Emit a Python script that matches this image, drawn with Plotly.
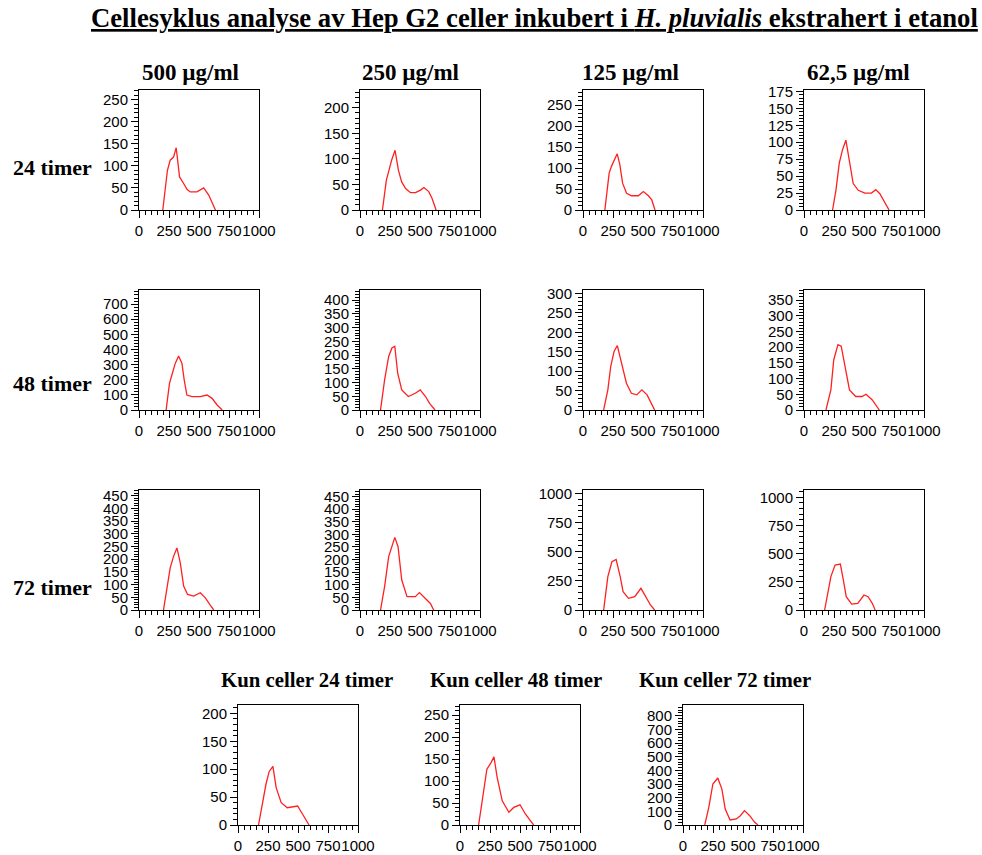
import plotly.graph_objects as go

# ---------------- data ----------------
# x: DNA content channel, y: cell count
x_500_24 = [198, 237, 260, 288, 310, 338, 372, 400, 427, 483, 539, 581, 637]
y_500_24 = [0, 90, 113, 120, 141, 75, 60, 47, 41, 41, 50, 34, 0]
x_250_24 = [187, 220, 242, 264, 292, 320, 347, 380, 421, 463, 504, 532, 573, 600, 634]
y_250_24 = [0, 59, 78, 98, 117, 78, 55, 42, 34, 34, 39, 44, 36, 23, 0]
x_125_24 = [182, 201, 218, 237, 265, 285, 307, 330, 363, 405, 461, 503, 545, 573, 600]
y_125_24 = [0, 40, 88, 104, 124, 134, 108, 64, 40, 34, 34, 44, 34, 24, 0]
x_62_24 = [238, 266, 294, 321, 349, 377, 410, 452, 507, 562, 598, 632, 673, 709]
y_62_24 = [0, 29, 69, 89, 103, 74, 39, 29, 25, 25, 30, 24, 11, 0]

x_500_48 = [226, 254, 274, 302, 330, 358, 377, 399, 441, 511, 567, 609, 651, 693]
y_500_48 = [0, 176, 231, 308, 357, 308, 198, 99, 88, 88, 99, 77, 33, 0]
x_250_48 = [171, 205, 239, 266, 290, 314, 348, 403, 461, 502, 546, 580, 625]
y_250_48 = [0, 110, 195, 226, 232, 134, 73, 49, 61, 73, 49, 24, 0]
x_125_48 = [172, 207, 231, 259, 286, 321, 362, 403, 448, 490, 534, 597]
y_125_48 = [0, 52, 112, 151, 166, 121, 69, 43, 39, 52, 39, 0]
x_62_48 = [183, 224, 248, 283, 310, 345, 379, 431, 483, 517, 569, 628]
y_62_48 = [0, 64, 160, 208, 203, 128, 64, 43, 43, 50, 32, 0]

x_500_72 = [204, 232, 260, 288, 316, 344, 372, 405, 455, 511, 553, 595, 623]
y_500_72 = [0, 81, 166, 211, 244, 185, 94, 61, 55, 68, 48, 18, 0]
x_250_72 = [171, 205, 239, 266, 290, 317, 348, 392, 461, 495, 546, 587, 614]
y_250_72 = [0, 93, 212, 258, 288, 251, 119, 53, 53, 69, 46, 26, 0]
x_125_72 = [172, 207, 241, 276, 310, 334, 379, 431, 483, 517, 562, 597]
y_125_72 = [0, 286, 414, 434, 286, 157, 100, 114, 186, 129, 43, 0]
x_62_72 = [172, 224, 259, 303, 328, 352, 397, 448, 500, 534, 569, 593]
y_62_72 = [0, 296, 399, 408, 266, 118, 53, 59, 133, 118, 59, 0]

x_ctrl_24 = [171, 205, 233, 260, 291, 318, 360, 411, 462, 497, 531, 565, 592]
y_ctrl_24 = [0, 43, 73, 96, 105, 67, 40, 31, 33, 34, 22, 11, 0]
x_ctrl_48 = [155, 190, 224, 259, 283, 310, 352, 407, 448, 500, 545, 586, 614]
y_ctrl_48 = [0, 70, 127, 142, 155, 108, 55, 29, 40, 46, 25, 10, 0]
x_ctrl_72 = [181, 215, 249, 290, 324, 352, 392, 444, 478, 512, 556, 597, 625]
y_ctrl_72 = [0, 129, 300, 344, 263, 117, 37, 44, 68, 105, 68, 20, 0]

col_titles = ["500 µg/ml", "250 µg/ml", "125 µg/ml", "62,5 µg/ml"]
row_titles = ["24 timer", "48 timer", "72 timer"]
ctrl_titles = ["Kun celler 24 timer", "Kun celler 48 timer", "Kun celler 72 timer"]
title = "Cellesyklus analyse av Hep G2 celler inkubert i <i>H. pluvialis</i> ekstrahert i etanol"
x_ticks = [0, 250, 500, 750, 1000]

series = [
    (x_500_24, y_500_24), (x_250_24, y_250_24), (x_125_24, y_125_24), (x_62_24, y_62_24),
    (x_500_48, y_500_48), (x_250_48, y_250_48), (x_125_48, y_125_48), (x_62_48, y_62_48),
    (x_500_72, y_500_72), (x_250_72, y_250_72), (x_125_72, y_125_72), (x_62_72, y_62_72),
    (x_ctrl_24, y_ctrl_24), (x_ctrl_48, y_ctrl_48), (x_ctrl_72, y_ctrl_72),
]
# y-axis: (max of range, tick step)
y_axes = [
    (272, 50), (235, 50), (286, 50), (177, 25),
    (793, 100), (437, 50), (309, 50), (382, 50),
    (472, 50), (476, 50), (1029, 250), (1065, 250),
    (215, 50), (273, 50), (878, 100),
]

# ---------------- layout geometry (pixels) ----------------
W, H = 982, 855
PW, PH = 120, 120
boxes = []
for top in [90, 290, 490]:
    for left in [139, 360, 583, 804]:
        boxes.append((left, top))
for left in [238, 460, 683]:
    boxes.append((left, 705))

fig = go.Figure()
tick_font = dict(family="Liberation Sans Narrow, Arial Narrow, Liberation Sans", size=15, color="black")
layout = {}
for i, ((xs, ys), (ymax, dt), (left, top)) in enumerate(zip(series, y_axes, boxes)):
    n = i + 1
    sx = "" if n == 1 else str(n)
    fig.add_trace(go.Scatter(x=xs, y=ys, mode="lines",
                             line=dict(color="#ff2020", width=1.3),
                             xaxis="x" + sx, yaxis="y" + sx, showlegend=False,
                             hoverinfo="x+y"))
    layout["xaxis" + sx] = dict(
        domain=[left / W, (left + PW) / W], range=[0, 1000], anchor="y" + sx,
        tickvals=x_ticks, tickangle=0, automargin=False,
        ticks="outside", ticklen=7, tickwidth=1, tickcolor="black",
        minor=dict(dtick=50, tick0=0, ticks="outside", ticklen=4, tickcolor="black"),
        showline=True, linecolor="black", linewidth=1, mirror=True,
        showgrid=False, zeroline=False, tickfont=tick_font, fixedrange=True,
    )
    layout["yaxis" + sx] = dict(
        domain=[1 - (top + PH) / H, 1 - top / H], range=[0, ymax], anchor="x" + sx,
        dtick=dt, tick0=0, tickangle=0, automargin=False,
        ticks="outside", ticklen=7, tickwidth=1, tickcolor="black",
        minor=dict(dtick=dt / 5, tick0=0, ticks="outside", ticklen=4, tickcolor="black"),
        showline=True, linecolor="black", linewidth=1, mirror=True,
        showgrid=False, zeroline=False, tickfont=tick_font, fixedrange=True,
    )

serif = "Liberation Serif, Times New Roman, serif"
ann = []
ann.append(dict(text="<b>" + title + "</b>", x=534 / W, y=1 - 18 / H, xref="paper", yref="paper",
                showarrow=False, xanchor="center", yanchor="middle",
                font=dict(family=serif, size=26.7, color="black", lineposition="under")))
for t, cx in zip(col_titles, [190, 410, 630, 858]):
    ann.append(dict(text="<b>" + t + "</b>", x=cx / W, y=1 - 72 / H, xref="paper", yref="paper",
                    showarrow=False, xanchor="center", yanchor="middle",
                    font=dict(family=serif, size=23, color="black")))
for t, cy in zip(row_titles, [168, 383, 587]):
    ann.append(dict(text="<b>" + t + "</b>", x=52 / W, y=1 - cy / H, xref="paper", yref="paper",
                    showarrow=False, xanchor="center", yanchor="middle",
                    font=dict(family=serif, size=22, color="black")))
for t, cx in zip(ctrl_titles, [307, 516, 725]):
    ann.append(dict(text="<b>" + t + "</b>", x=cx / W, y=1 - 679 / H, xref="paper", yref="paper",
                    showarrow=False, xanchor="center", yanchor="middle",
                    font=dict(family=serif, size=20.8, color="black")))

fig.update_layout(width=W, height=H, margin=dict(l=0, r=0, t=0, b=0, autoexpand=False),
                  template="none",
                  paper_bgcolor="white", plot_bgcolor="white",
                  annotations=ann, **layout)
fig.write_html("out.html",
               config={"displayModeBar": False},
               post_script="document.body.style.margin='0';"
                           "document.documentElement.style.overflow='hidden';")
